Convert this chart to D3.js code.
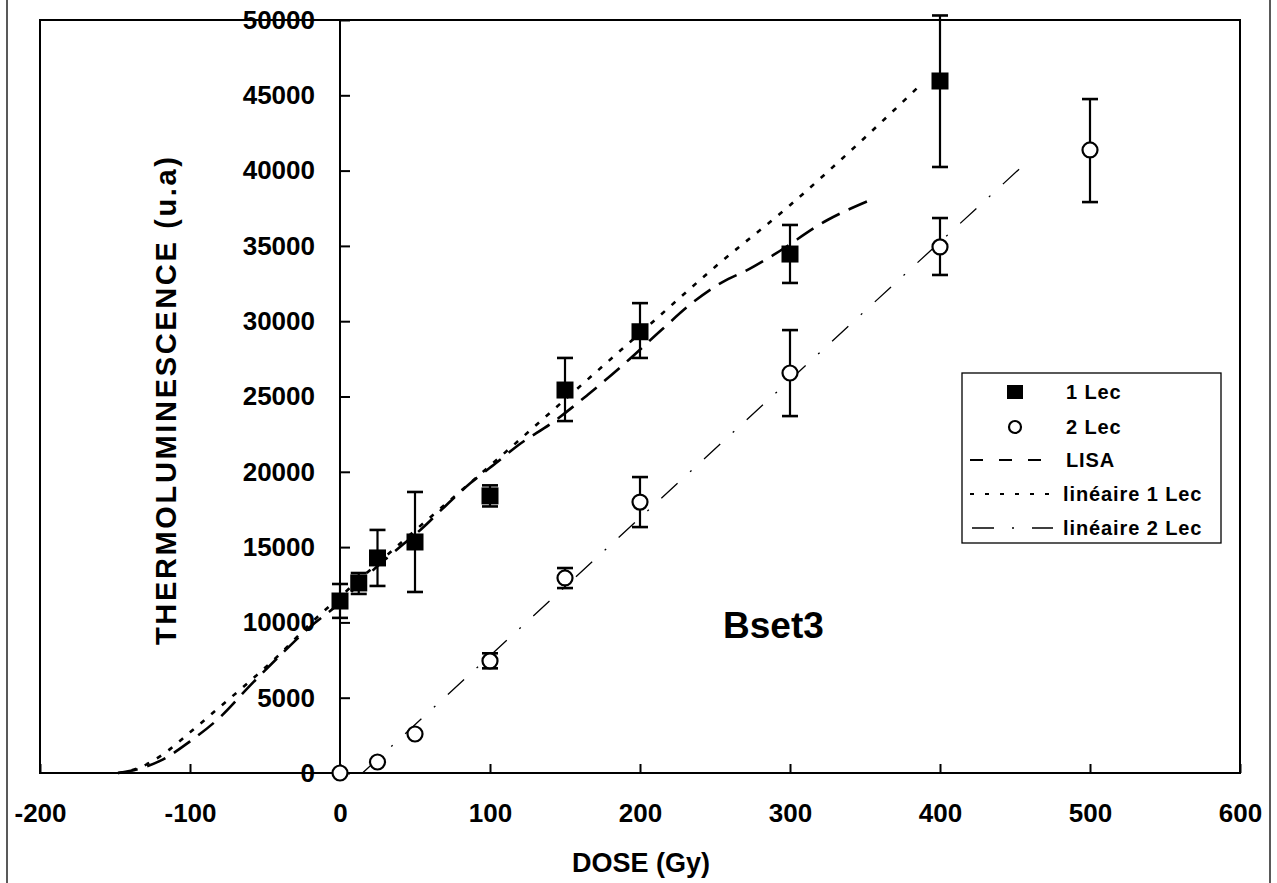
<!DOCTYPE html>
<html><head><meta charset="utf-8">
<script src="https://cdn.jsdelivr.net/npm/d3@7"></script>
<style>
html,body{margin:0;padding:0;background:#fff;}
svg{display:block;font-family:"Liberation Sans",Arial,Helvetica,sans-serif;}
</style></head>
<body><svg id="chart" width="1277" height="883"></svg>
<script>
// ---- data ----
const xTicks = [-200,-100,0,100,200,300,400,500,600];
const yTicks = [0,5000,10000,15000,20000,25000,30000,35000,40000,45000,50000];

const dose1 = [0,12.5,25,50,100,150,200,300,400];
const tl1   = [11420,12620,14280,15340,18400,25430,29300,34460,45950];
const tl1Lo = [10300,11890,12420,12020,17700,23370,27560,32540,40240];
const tl1Hi = [12550,13280,16140,18660,19100,27560,31200,36390,50300];

const dose2 = [0,25,50,100,150,200,300,400,500];
const tl2   = [0,730,2590,7440,12950,17990,26560,34930,41370];
const tl2Lo = [0,730,2590,6950,12280,16330,23700,33070,37910];
const tl2Hi = [0,730,2590,7950,13610,19650,29410,36850,44750];

const lisaDose = [-148,-135,-120,-100,-80,-60,-40,-20,0,20,32,55,71,87,104,119,142,165,187,215,233,255,273,289,325,355];
const lisaTL   = [0,250,800,2100,3700,5800,7800,9700,11300,13280,14340,16270,17800,19250,20580,21780,23300,25100,26950,29480,31070,32600,33470,34400,36720,38110];

const lin1Dose = [-148,-135,-120,-100,-80,-60,-40,-20,0,50,100,150,200,250,300,350,385];
const lin1TL   = [0,300,1100,2700,4400,6100,7900,9900,11700,16100,20400,24800,29200,33600,37700,42200,45500];

const lin2Dose = [15,455];
const lin2TL   = [0,40300];

const legendLabels = ["1 Lec","2 Lec","LISA","linéaire 1 Lec","linéaire 2 Lec"];

// ---- drawing ----
const svg = d3.select("#chart");
const x = d3.scaleLinear().domain([-200,600]).range([40,1240]);
const y = d3.scaleLinear().domain([0,50000]).range([773,20]);

// outer frame verticals
svg.append("line").attr("x1",7).attr("x2",7).attr("y1",0).attr("y2",883).attr("stroke","#222").attr("stroke-width",1.5);
svg.append("line").attr("x1",1270).attr("x2",1270).attr("y1",0).attr("y2",883).attr("stroke","#222").attr("stroke-width",1.5);

// plot box
svg.append("rect").attr("x",x(-200)).attr("y",y(50000)).attr("width",x(600)-x(-200)).attr("height",y(0)-y(50000))
  .attr("fill","none").attr("stroke","#000").attr("stroke-width",2);

const fmt = d => String(d);

// x axis
const gx = svg.append("g").attr("transform",`translate(0,${y(0)})`)
  .call(d3.axisBottom(x).tickValues(xTicks).tickSize(-9).tickPadding(31).tickFormat(fmt));
gx.select(".domain").remove();
gx.selectAll("line").attr("stroke","#000").attr("stroke-width",2);
gx.selectAll("text").attr("font-size",26).attr("font-weight","bold").attr("fill","#000");

// y axis at x=0
const gy = svg.append("g").attr("transform",`translate(${x(0)},0)`)
  .call(d3.axisLeft(y).tickValues(yTicks).tickSize(-10).tickPadding(25).tickFormat(fmt));
gy.select(".domain").remove();
gy.selectAll("line").attr("stroke","#000").attr("stroke-width",2);
gy.selectAll("text").attr("font-size",26).attr("font-weight","bold").attr("fill","#000");
svg.append("line").attr("x1",x(0)).attr("x2",x(0)).attr("y1",y(50000)).attr("y2",y(0)).attr("stroke","#000").attr("stroke-width",2);

// titles
svg.append("text").attr("x",641).attr("y",872).attr("text-anchor","middle")
  .attr("font-size",27).attr("font-weight","bold").text("DOSE (Gy)");
svg.append("text").attr("transform","translate(176,401) rotate(-90)").attr("text-anchor","middle")
  .attr("font-size",29).attr("font-weight","bold").attr("textLength",488).attr("lengthAdjust","spacing")
  .text("THERMOLUMINESCENCE (u.a)");
svg.append("text").attr("x",723).attr("y",638).attr("font-size",37).attr("font-weight","bold").text("Bset3");

// lines
const line = d3.line().x(d=>x(d[0])).y(d=>y(d[1])).curve(d3.curveMonotoneX);
const styles = {
  lin1:{dash:"5,9",w:2.6},
  lisa:{dash:"20,10",w:2.6},
  lin2:{dash:"22,17,2,17",w:1.3}
};
svg.append("path").datum(lin1Dose.map((d,i)=>[d,lin1TL[i]])).attr("d",line)
  .attr("fill","none").attr("stroke","#000").attr("stroke-width",styles.lin1.w).attr("stroke-dasharray",styles.lin1.dash);
svg.append("path").datum(lisaDose.map((d,i)=>[d,lisaTL[i]])).attr("d",line)
  .attr("fill","none").attr("stroke","#000").attr("stroke-width",styles.lisa.w).attr("stroke-dasharray",styles.lisa.dash);
svg.append("path").datum(lin2Dose.map((d,i)=>[d,lin2TL[i]])).attr("d",line)
  .attr("fill","none").attr("stroke","#000").attr("stroke-width",styles.lin2.w).attr("stroke-dasharray",styles.lin2.dash);

// error bars
function errBars(dose,lo,hi){
  const g = svg.append("g").attr("stroke","#000").attr("stroke-width",2.2);
  dose.forEach((d,i)=>{
    if(hi[i]===lo[i]) return;
    const cx=x(d);
    g.append("line").attr("x1",cx).attr("x2",cx).attr("y1",y(lo[i])).attr("y2",y(hi[i]));
    [lo[i],hi[i]].forEach(v=>g.append("line").attr("x1",cx-8).attr("x2",cx+8).attr("y1",y(v)).attr("y2",y(v)).attr("stroke-width",2.6));
  });
}
errBars(dose1,tl1Lo,tl1Hi);
errBars(dose2,tl2Lo,tl2Hi);

// markers
svg.append("g").selectAll("rect").data(dose1).join("rect")
  .attr("x",(d)=>x(d)-8.5).attr("y",(d,i)=>y(tl1[i])-8.5).attr("width",17).attr("height",17).attr("fill","#000");
svg.append("g").selectAll("circle").data(dose2).join("circle")
  .attr("cx",d=>x(d)).attr("cy",(d,i)=>y(tl2[i])).attr("r",7.5).attr("fill","#fff").attr("stroke","#000").attr("stroke-width",2.2);

// legend
const lg = svg.append("g");
lg.append("rect").attr("x",962).attr("y",373).attr("width",259).attr("height",170).attr("fill","#fff").attr("stroke","#000").attr("stroke-width",1.3);
const rowY = [392,427,460,494,528];
lg.selectAll("text").data(legendLabels).join("text")
  .attr("x",(d,i)=>i>=3?1063:1066).attr("y",(d,i)=>rowY[i]+7).attr("font-size",20).attr("font-weight","bold").attr("letter-spacing",0.9)
  .text(d=>d);
lg.append("rect").attr("x",1007).attr("y",rowY[0]-7).attr("width",16).attr("height",14).attr("fill","#000");
lg.append("circle").attr("cx",1015).attr("cy",rowY[1]).attr("r",6).attr("fill","#fff").attr("stroke","#000").attr("stroke-width",2.2);
lg.append("line").attr("x1",970).attr("x2",1053).attr("y1",rowY[2]).attr("y2",rowY[2]).attr("stroke","#000").attr("stroke-width",2)
  .attr("stroke-dasharray","13,16");
lg.append("line").attr("x1",970).attr("x2",1060).attr("y1",rowY[3]).attr("y2",rowY[3]).attr("stroke","#000").attr("stroke-width",2)
  .attr("stroke-dasharray","4,11");
lg.append("line").attr("x1",972).attr("x2",1053).attr("y1",rowY[4]).attr("y2",rowY[4]).attr("stroke","#000").attr("stroke-width",1.3)
  .attr("stroke-dasharray","22,18,2,18");
</script></body></html>
